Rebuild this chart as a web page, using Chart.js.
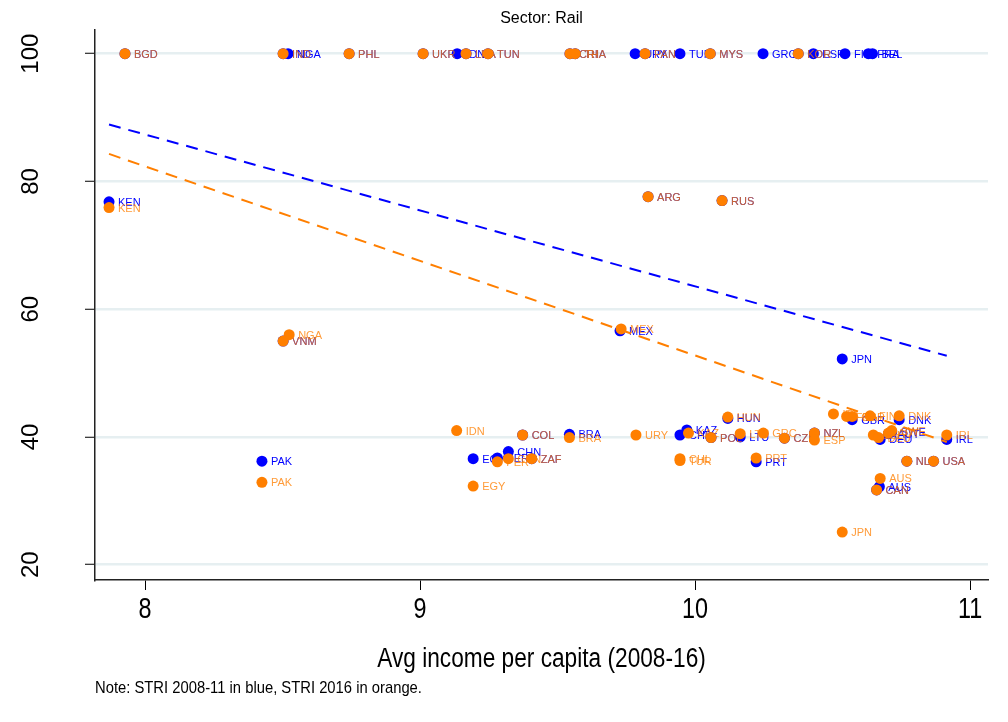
<!DOCTYPE html>
<html>
<head>
<meta charset="utf-8">
<title>Sector: Rail</title>
<script src="https://cdn.jsdelivr.net/npm/chart.js@4.4.1/dist/chart.umd.min.js"></script>
<style>
  html, body { margin: 0; padding: 0; background: #fff; }
  canvas { display: block; }
</style>
</head>
<body>
<canvas id="chart-rail" width="1008" height="722"></canvas>
<script>
// STRI 2008-11 (blue)
const blueCodes = ["BGD", "IND", "NGA", "PHL", "UKR", "IDN", "LKA", "TUN", "CRI", "THA", "URY", "PAN", "TUR", "MYS", "GRC", "KOR", "ESP", "FIN", "FRA", "BEL",
  "KEN", "VNM", "PAK", "ARG", "RUS", "MEX", "JPN", "COL", "BRA", "EGY", "PER", "CHN", "ZAF", "HUN", "KAZ", "CHL", "POL", "LTU", "CZE", "NZL",
  "PRT", "GBR", "DNK", "DEU", "AUT", "SWE", "IRL", "NLD", "USA", "AUS", "CAN"];
const blueIncome = [7.927, 8.502, 8.52, 8.742, 9.011, 9.135, 9.167, 9.247, 9.545, 9.564, 9.782, 9.818, 9.945, 10.055, 10.247, 10.375, 10.43, 10.545, 10.63, 10.645,
  7.869, 8.502, 8.425, 9.829, 10.098, 9.727, 10.535, 9.373, 9.543, 9.193, 9.281, 9.321, 9.406, 10.119, 9.97, 9.945, 10.058, 10.164, 10.325, 10.434,
  10.222, 10.571, 10.742, 10.673, 10.703, 10.715, 10.915, 10.77, 10.867, 10.67, 10.66];
const blueStri = [100, 100, 100, 100, 100, 100, 100, 100, 100, 100, 100, 100, 100, 100, 100, 100, 100, 100, 100, 100,
  76.8, 55.0, 36.2, 77.6, 77.0, 56.6, 52.2, 40.3, 40.4, 36.6, 36.7, 37.7, 36.6, 42.9, 41.1, 40.3, 39.9, 40.0, 39.8, 40.6,
  36.1, 42.7, 42.7, 39.6, 40.5, 40.8, 39.6, 36.2, 36.2, 32.2, 31.7];

// STRI 2016 (orange)
const orangeCodes = ["BGD", "IND", "PHL", "UKR", "LKA", "TUN", "CRI", "THA", "PAN", "MYS", "KOR",
  "KEN", "NGA", "VNM", "PAK", "ARG", "RUS", "MEX", "JPN", "IDN", "COL", "BRA", "URY", "EGY", "PER", "CHN", "ZAF",
  "HUN", "KAZ", "CHL", "TUR", "POL", "LTU", "GRC", "CZE", "NZL", "ESP", "PRT", "ITA", "FRA", "GBR", "FIN", "DNK",
  "BEL", "DEU", "AUT", "SWE", "IRL", "NLD", "USA", "AUS", "CAN"];
const orangeIncome = [7.927, 8.502, 8.742, 9.011, 9.167, 9.247, 9.545, 9.564, 9.818, 10.055, 10.375,
  7.869, 8.524, 8.502, 8.425, 9.829, 10.098, 9.731, 10.535, 9.133, 9.373, 9.543, 9.785, 9.193, 9.281, 9.321, 9.406,
  10.119, 9.976, 9.945, 9.945, 10.058, 10.164, 10.248, 10.325, 10.434, 10.434, 10.222, 10.503, 10.551, 10.571, 10.636, 10.742,
  10.648, 10.667, 10.703, 10.715, 10.915, 10.77, 10.867, 10.673, 10.66];
const orangeStri = [100, 100, 100, 100, 100, 100, 100, 100, 100, 100, 100,
  75.9, 56.0, 55.0, 32.9, 77.6, 77.0, 56.9, 25.1, 41.0, 40.3, 39.9, 40.3, 32.3, 36.1, 36.6, 36.6,
  43.1, 40.6, 36.6, 36.3, 39.9, 40.5, 40.6, 39.8, 40.6, 39.5, 36.7, 43.6, 43.2, 43.2, 43.3, 43.3,
  40.3, 39.9, 40.6, 41.0, 40.3, 36.2, 36.2, 33.5, 31.7];

// fitted lines (end points)
const fitIncome = [7.869, 10.915];
const blueFit = [88.9, 52.7];
const orangeFit = [84.3, 39.2];

const xTicks = [8, 9, 10, 11];
const yTicks = [20, 40, 60, 80, 100];

const BLUE = "#0000ff";
const ORANGE = "#ff7f00";
const SANS = "'Liberation Sans', Arial, sans-serif";

function toPoints(xs, ys) {
  return xs.map((x, i) => ({ x: x, y: ys[i] }));
}

// squeezed text, the picture uses a narrow face
function narrowText(ctx, text, x, y, squeeze) {
  ctx.save();
  ctx.translate(x, y);
  ctx.scale(squeeze, 1);
  ctx.fillText(text, 0, 0);
  ctx.restore();
}

// country codes next to the markers, drawn right after each scatter
const pointLabels = {
  id: "pointLabels",
  afterDatasetDraw(chart, args) {
    const ds = chart.data.datasets[args.index];
    if (!ds.codes) return;
    const ctx = chart.ctx;
    ctx.save();
    ctx.font = "11px " + SANS;
    ctx.fillStyle = ds.labelColor;
    ctx.textBaseline = "middle";
    args.meta.data.forEach((pt, i) => {
      ctx.fillText(ds.codes[i], pt.x + 9, pt.y + 1);
    });
    ctx.restore();
  },
};

// title, tick labels, x title and note
const extraText = {
  id: "extraText",
  afterDraw(chart) {
    const ctx = chart.ctx;
    const area = chart.chartArea;
    const xScale = chart.scales.x;
    const yScale = chart.scales.y;
    const midX = (area.left + area.right) / 2;
    ctx.save();
    ctx.fillStyle = "#000";
    ctx.textAlign = "center";
    ctx.textBaseline = "middle";
    ctx.font = "16px " + SANS;
    ctx.fillText("Sector: Rail", midX, 19);

    ctx.font = "24px " + SANS;
    yTicks.forEach((v) => {
      ctx.save();
      ctx.translate(31, yScale.getPixelForValue(v));
      ctx.rotate(-Math.PI / 2);
      ctx.fillText(String(v), 0, 0);
      ctx.restore();
    });

    ctx.font = "30px " + SANS;
    xTicks.forEach((v) => {
      narrowText(ctx, String(v), xScale.getPixelForValue(v), 610, 0.78);
    });

    ctx.font = "27px " + SANS;
    narrowText(ctx, "Avg income per capita (2008-16)", midX, 660, 0.84);

    ctx.textAlign = "left";
    ctx.font = "17px " + SANS;
    narrowText(ctx, "Note: STRI 2008-11 in blue, STRI 2016 in orange.", 95, 688, 0.87);
    ctx.restore();
  },
};

var ctx = document.getElementById("chart-rail").getContext("2d");

new Chart(ctx, {
  type: "scatter",
  data: {
    datasets: [
      {
        label: "STRI 2008-11",
        data: toPoints(blueIncome, blueStri),
        codes: blueCodes,
        labelColor: BLUE,
        backgroundColor: BLUE,
        borderWidth: 0,
        pointRadius: 5.5,
        order: 2,
      },
      {
        label: "STRI 2016",
        data: toPoints(orangeIncome, orangeStri),
        codes: orangeCodes,
        labelColor: "rgba(255, 127, 0, 0.78)",
        backgroundColor: ORANGE,
        borderWidth: 0,
        pointRadius: 5.5,
        order: 1,
      },
      {
        label: "Fit 2008-11",
        data: toPoints(fitIncome, blueFit),
        showLine: true,
        borderColor: BLUE,
        borderWidth: 2,
        borderDash: [12, 8],
        pointRadius: 0,
        order: 0,
      },
      {
        label: "Fit 2016",
        data: toPoints(fitIncome, orangeFit),
        showLine: true,
        borderColor: ORANGE,
        borderWidth: 2,
        borderDash: [12, 8],
        pointRadius: 0,
        order: 0,
      },
    ],
  },
  options: {
    responsive: false,
    animation: false,
    devicePixelRatio: 1,
    layout: {
      padding: { top: 30, right: 20, bottom: 0, left: 0 },
    },
    plugins: {
      legend: { display: false },
      tooltip: { enabled: false },
      title: { display: false },
    },
    scales: {
      x: {
        type: "linear",
        min: 7.818,
        max: 11.065,
        afterBuildTicks: (scale) => {
          scale.ticks = xTicks.map((v) => ({ value: v }));
        },
        afterFit: (scale) => {
          scale.height = 142;
        },
        grid: {
          drawOnChartArea: false,
          drawTicks: true,
          tickLength: 10,
          tickColor: "#000",
          tickWidth: 1,
        },
        border: { display: true, color: "#222", width: 1.5 },
        ticks: { display: false },
      },
      y: {
        type: "linear",
        min: 17.6,
        max: 103.7,
        afterBuildTicks: (scale) => {
          scale.ticks = yTicks.map((v) => ({ value: v }));
        },
        afterFit: (scale) => {
          scale.width = 95;
        },
        grid: {
          color: "#e6eff1",
          lineWidth: 2.5,
          drawTicks: true,
          tickLength: 10,
          tickColor: "#000",
          tickWidth: 1,
        },
        border: { display: true, color: "#222", width: 1.5 },
        ticks: { display: false },
      },
    },
  },
  plugins: [pointLabels, extraText],
});
</script>
</body>
</html>
